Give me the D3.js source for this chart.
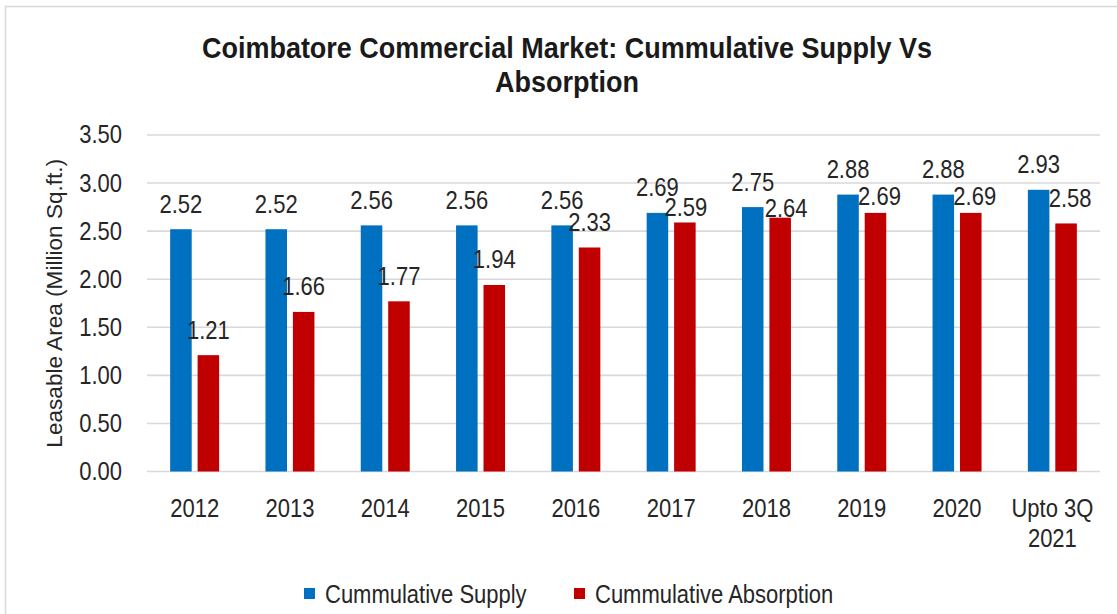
<!DOCTYPE html>
<html>
<head>
<meta charset="utf-8">
<script src="https://cdn.jsdelivr.net/npm/d3@7"></script>
<style>
  html, body { margin: 0; padding: 0; background: #ffffff; }
  svg { display: block; font-family: "Liberation Sans", Arial, sans-serif; }
</style>
</head>
<body>
<svg id="chart" width="1117" height="614"></svg>
<script>
// Coimbatore commercial office market, cumulative figures (million sq.ft.)
const categories = ["2012", "2013", "2014", "2015", "2016", "2017", "2018", "2019", "2020", "Upto 3Q\n2021"];
const supply     = [2.52, 2.52, 2.56, 2.56, 2.56, 2.69, 2.75, 2.88, 2.88, 2.93];
const absorption = [1.21, 1.66, 1.77, 1.94, 2.33, 2.59, 2.64, 2.69, 2.69, 2.58];
const yTicks     = [0, 0.5, 1, 1.5, 2, 2.5, 3, 3.5];
const seriesNames  = ["Cummulative Supply", "Cummulative Absorption"];
const seriesColors = ["#0070C0", "#C00000"];
const titleLines = ["Coimbatore Commercial Market: Cummulative Supply Vs", "Absorption"];
const yTitle = "Leasable Area (Million Sq.ft.)";

// hand-placed nudges (px) for absorption labels that would collide with supply labels
const absLabelNudgeX = [0, 0, 0, 0, 0, 1, 6, 4, 4, 4];
const absLabelNudgeY = [0, 0, 0, 0, 0, 10.5, 15.5, 8.5, 8.5, 0];

const svg = d3.select("#chart");
const W = 1117, H = 614;
const plot = { left: 147, right: 1100, top: 135, bottom: 471.5 };
const SX = 0.88; // horizontal condensing applied to text
const FS = 25;   // base font size

// outer frame
svg.append("rect")
  .attr("x", 5.5).attr("y", 6.5)
  .attr("width", W + 20).attr("height", H + 20)
  .attr("fill", "#ffffff")
  .attr("stroke", "#d9d9d9").attr("stroke-width", 1.5);

function label(g, x, y, txt, opts = {}) {
  return g.append("text")
    .attr("transform", `translate(${x},${y}) scale(${opts.sx ?? SX},1)`)
    .attr("text-anchor", opts.anchor || "middle")
    .attr("dominant-baseline", opts.baseline || "alphabetic")
    .attr("font-size", opts.size || FS)
    .attr("font-weight", opts.weight || "normal")
    .attr("fill", opts.fill || "#262626")
    .text(txt);
}

const x = d3.scaleBand().domain(categories).range([plot.left, plot.right]).padding(0);
const y = d3.scaleLinear().domain([0, 3.5]).range([plot.bottom, plot.top]);

// gridlines
const gridG = svg.append("g");
gridG.selectAll("line").data(yTicks).join("line")
  .attr("x1", plot.left).attr("x2", plot.right)
  .attr("y1", d => y(d)).attr("y2", d => y(d))
  .attr("stroke", "#d9d9d9").attr("stroke-width", 1.6);

// y tick labels
const yAxisG = svg.append("g");
yTicks.forEach(t => label(yAxisG, 122, y(t), d3.format(".2f")(t), { anchor: "end", baseline: "central" }));

// y axis title
svg.append("text")
  .attr("transform", `translate(62,${(plot.top + plot.bottom) / 2}) rotate(-90)`)
  .attr("text-anchor", "middle")
  .attr("font-size", 22.6)
  .attr("fill", "#262626")
  .text(yTitle);

// bars
const bw = x.bandwidth() * 0.226;
const gap = x.bandwidth() * 0.031;
const series = [supply, absorption];
const barG = svg.append("g");
series.forEach((vals, si) => {
  const xOff = si === 0 ? -gap - bw : gap;
  barG.append("g").selectAll("rect").data(categories).join("rect")
    .attr("x", d => x(d) + x.bandwidth() / 2 + xOff)
    .attr("y", (d, i) => y(vals[i]))
    .attr("width", bw)
    .attr("height", (d, i) => y(0) - y(vals[i]))
    .attr("fill", seriesColors[si]);
});

// value labels
const valG = svg.append("g");
series.forEach((vals, si) => {
  const xOff = si === 0 ? -gap - bw / 2 : gap + bw / 2;
  categories.forEach((c, i) => {
    const nx = si === 1 ? absLabelNudgeX[i] : 0;
    const ny = si === 1 ? absLabelNudgeY[i] : 0;
    label(valG, x(c) + x.bandwidth() / 2 + xOff + nx, y(vals[i]) - 16.5 + ny, d3.format(".2f")(vals[i]));
  });
});

// x labels
const xAxisG = svg.append("g");
categories.forEach(c => {
  c.split("\n").forEach((line, li) => {
    label(xAxisG, x(c) + x.bandwidth() / 2, 517 + li * 30, line);
  });
});

// title
const titleG = svg.append("g");
titleLines.forEach((t, i) => label(titleG, 567, 57.5 + i * 34.5, t, { size: 30, weight: "bold", fill: "#1a1a1a", sx: 0.9 }));

// legend
const legendG = svg.append("g");
const legendX = [304, 574];
seriesNames.forEach((name, i) => {
  legendG.append("rect")
    .attr("x", legendX[i]).attr("y", 588)
    .attr("width", 11).attr("height", 11)
    .attr("fill", seriesColors[i]);
  label(legendG, legendX[i] + 21, 603, name, { anchor: "start" });
});
</script>
</body>
</html>
